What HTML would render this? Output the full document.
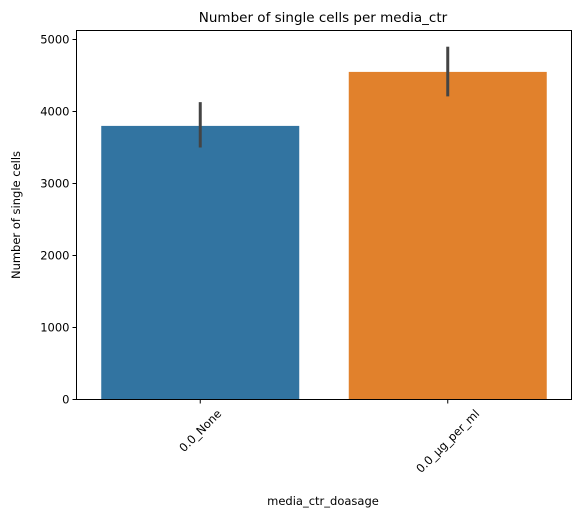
<!DOCTYPE html>
<html><head><meta charset="utf-8"><style>
body{margin:0;background:#fff;font-family:"Liberation Sans","DejaVu Sans",sans-serif;}
svg text{font-family:"DejaVu Sans","Liberation Sans",sans-serif;}
</style></head><body>
<svg id="chart" width="580" height="520">
<text x="323" y="22" font-size="13.5" text-anchor="middle">Number of single cells per media_ctr</text>
<g id="yaxis"></g><g id="bars"></g><g id="xaxis"></g>
<rect x="76.5" y="30.5" width="495" height="369" fill="none" stroke="#000" stroke-width="1"/>
<text transform="translate(20,215) rotate(-90)" font-size="11.5" text-anchor="middle">Number of single cells</text>
<text x="323" y="505" font-size="11.5" text-anchor="middle">media_ctr_doasage</text>
</svg>
<script>
const categories=["0.0_None","0.0_µg_per_ml"];
const values=[3800,4550];
const errLow=[3500,4210];
const errHigh=[4130,4900];
const colors=["#3274a1","#e1812c"];
const yTicks=[0,1000,2000,3000,4000,5000];
const NS="http://www.w3.org/2000/svg";
const L=76.5,R=571.5,B=399.5;
const y=v=>B-v*0.072;
const band=(R-L)/categories.length;
const mk=(t,a,p)=>{const e=document.createElementNS(NS,t);for(const k in a)e.setAttribute(k,a[k]);p.appendChild(e);return e;};
const ya=document.getElementById('yaxis'),ba=document.getElementById('bars'),xa=document.getElementById('xaxis');
yTicks.forEach(v=>{
 const t=mk('line',{x1:L-4,x2:L,y1:y(v),y2:y(v),stroke:'#000'},ya);
 
 
 const l=mk('text',{x:L-7,y:y(v)+4,'font-size':11.5,'text-anchor':'end'},ya);l.textContent=v;
 
 
});
categories.forEach((c,i)=>{
 const cx=L+band*(i+0.5),w=band*0.8;
 const r=mk('rect',{x:cx-w/2,y:y(values[i]),width:w,height:B-y(values[i]),fill:colors[i]},ba);
 
 
 const e=mk('line',{x1:cx,x2:cx,y1:y(errLow[i]),y2:y(errHigh[i]),stroke:'#444','stroke-width':3},ba);
 
 
 const t=mk('line',{x1:cx,x2:cx,y1:B,y2:B+4,stroke:'#000'},xa);
 
 
 const l=mk('text',{x:0,y:0,'font-size':11.5,'text-anchor':'middle','dominant-baseline':'central'},xa);l.textContent=c;
 
 
 const tw=l.getComputedTextLength(),th=11.5;
 const cy=B+8+(tw+th)*0.7071/2;
 l.setAttribute('transform',`translate(${cx},${cy}) rotate(-45)`);
});
</script>
</body></html>
